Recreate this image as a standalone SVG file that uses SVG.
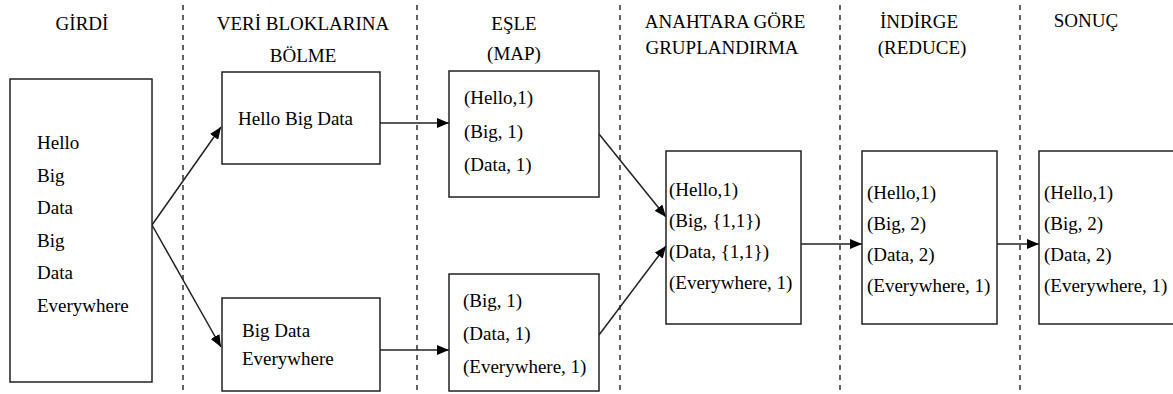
<svg xmlns="http://www.w3.org/2000/svg" width="1173" height="394" viewBox="0 0 1173 394">
<defs>
<marker id="ah" markerUnits="userSpaceOnUse" markerWidth="12" markerHeight="10" viewBox="0 0 12 10" refX="12" refY="5" orient="auto">
<path d="M0,0 L12,5 L0,10 Z" fill="#000"/>
</marker>
<style>
.box{fill:#fff;stroke:#222;stroke-width:1.5}
.sep{stroke:#222;stroke-width:1.4;stroke-dasharray:5,5;fill:none}
.c{stroke:#222;stroke-width:1.5;fill:none;marker-end:url(#ah)}
</style>
</defs>
<rect width="1173" height="394" fill="#fff"/>
<g id="separators">
<line class="sep" x1="183" y1="5" x2="183" y2="394"/>
<line class="sep" x1="417" y1="5" x2="417" y2="394"/>
<line class="sep" x1="620" y1="5" x2="620" y2="394"/>
<line class="sep" x1="840" y1="5" x2="840" y2="394"/>
<line class="sep" x1="1020" y1="5" x2="1020" y2="394"/>
</g>
<g id="headers" text-anchor="middle">
<text style="font-family:'Liberation Serif',serif;font-size:19px" x="82" y="30">GİRDİ</text>
<text style="font-family:'Liberation Serif',serif;font-size:19px" x="303" y="30">VERİ BLOKLARINA</text>
<text style="font-family:'Liberation Serif',serif;font-size:19px" x="303" y="62">BÖLME</text>
<text style="font-family:'Liberation Serif',serif;font-size:19px" x="514" y="30">EŞLE</text>
<text style="font-family:'Liberation Serif',serif;font-size:19px" x="514" y="60">(MAP)</text>
<text style="font-family:'Liberation Serif',serif;font-size:19px" x="725" y="28">ANAHTARA GÖRE</text>
<text style="font-family:'Liberation Serif',serif;font-size:19px" x="722" y="54">GRUPLANDIRMA</text>
<text style="font-family:'Liberation Serif',serif;font-size:19px" x="919" y="28">İNDİRGE</text>
<text style="font-family:'Liberation Serif',serif;font-size:19px" x="922" y="54">(REDUCE)</text>
<text style="font-family:'Liberation Serif',serif;font-size:19px" x="1086" y="27">SONUÇ</text>
</g>
<g id="connectors">
<line class="c" x1="152" y1="225" x2="221" y2="127"/>
<line class="c" x1="152" y1="225" x2="221" y2="347"/>
<line class="c" x1="380" y1="123" x2="449" y2="123"/>
<line class="c" x1="380" y1="350" x2="449" y2="350"/>
<line class="c" x1="599" y1="134" x2="666" y2="217"/>
<line class="c" x1="599" y1="335" x2="666" y2="246"/>
<line class="c" x1="801" y1="244" x2="862" y2="244"/>
<line class="c" x1="997" y1="244" x2="1039" y2="244"/>
</g>
<g id="input">
<rect class="box" x="10" y="79" width="142" height="303"/>
<text style="font-family:'Liberation Serif',serif;font-size:19px" x="37" y="149">Hello</text>
<text style="font-family:'Liberation Serif',serif;font-size:19px" x="37" y="181.5">Big</text>
<text style="font-family:'Liberation Serif',serif;font-size:19px" x="37" y="214">Data</text>
<text style="font-family:'Liberation Serif',serif;font-size:19px" x="37" y="246.5">Big</text>
<text style="font-family:'Liberation Serif',serif;font-size:19px" x="37" y="279">Data</text>
<text style="font-family:'Liberation Serif',serif;font-size:19px" x="37" y="311.5">Everywhere</text>
</g>
<g id="split1">
<rect class="box" x="222" y="72" width="158" height="92"/>
<text style="font-family:'Liberation Serif',serif;font-size:19px" x="238" y="125">Hello Big Data</text>
</g>
<g id="split2">
<rect class="box" x="222" y="298" width="158" height="93"/>
<text style="font-family:'Liberation Serif',serif;font-size:19px" x="242" y="337">Big Data</text>
<text style="font-family:'Liberation Serif',serif;font-size:19px" x="242" y="365">Everywhere</text>
</g>
<g id="map1">
<rect class="box" x="449" y="71" width="150" height="126"/>
<text style="font-family:'Liberation Serif',serif;font-size:19px" x="464" y="104">(Hello,1)</text>
<text style="font-family:'Liberation Serif',serif;font-size:19px" x="464" y="138">(Big, 1)</text>
<text style="font-family:'Liberation Serif',serif;font-size:19px" x="464" y="171">(Data, 1)</text>
</g>
<g id="map2">
<rect class="box" x="449" y="274" width="150" height="117"/>
<text style="font-family:'Liberation Serif',serif;font-size:19px" x="463" y="307">(Big, 1)</text>
<text style="font-family:'Liberation Serif',serif;font-size:19px" x="463" y="340">(Data, 1)</text>
<text style="font-family:'Liberation Serif',serif;font-size:19px" x="463" y="373">(Everywhere, 1)</text>
</g>
<g id="group">
<rect class="box" x="666" y="151" width="135" height="173"/>
<text style="font-family:'Liberation Serif',serif;font-size:19px" x="669" y="196">(Hello,1)</text>
<text style="font-family:'Liberation Serif',serif;font-size:19px" x="669" y="227">(Big, {1,1})</text>
<text style="font-family:'Liberation Serif',serif;font-size:19px" x="669" y="258">(Data, {1,1})</text>
<text style="font-family:'Liberation Serif',serif;font-size:19px" x="669" y="289">(Everywhere, 1)</text>
</g>
<g id="reduce">
<rect class="box" x="862" y="151" width="135" height="173"/>
<text style="font-family:'Liberation Serif',serif;font-size:19px" x="867" y="199">(Hello,1)</text>
<text style="font-family:'Liberation Serif',serif;font-size:19px" x="867" y="230">(Big, 2)</text>
<text style="font-family:'Liberation Serif',serif;font-size:19px" x="867" y="261">(Data, 2)</text>
<text style="font-family:'Liberation Serif',serif;font-size:19px" x="867" y="292">(Everywhere, 1)</text>
</g>
<g id="result">
<rect class="box" x="1039" y="151" width="140" height="173"/>
<text style="font-family:'Liberation Serif',serif;font-size:19px" x="1044" y="199">(Hello,1)</text>
<text style="font-family:'Liberation Serif',serif;font-size:19px" x="1044" y="230">(Big, 2)</text>
<text style="font-family:'Liberation Serif',serif;font-size:19px" x="1044" y="261">(Data, 2)</text>
<text style="font-family:'Liberation Serif',serif;font-size:19px" x="1044" y="292">(Everywhere, 1)</text>
</g>
</svg>
